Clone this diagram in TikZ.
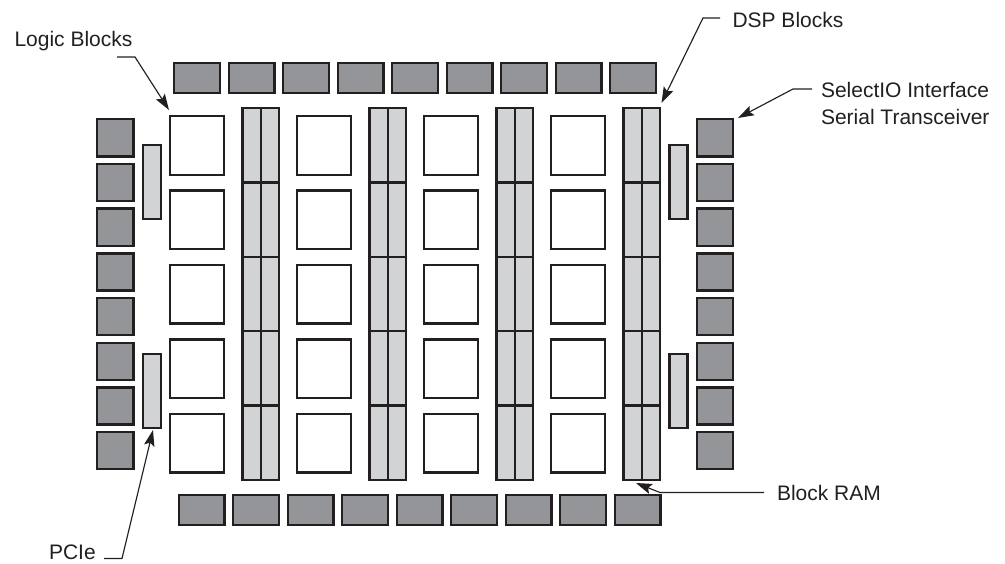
\documentclass[tikz,border=0pt]{standalone}
\usepackage{fontspec}
\setmainfont{Liberation Sans}
\usetikzlibrary{arrows.meta}
\definecolor{ink}{HTML}{231F20}
\definecolor{darkfill}{HTML}{939598}
\definecolor{lightfill}{HTML}{D1D3D4}
\tikzset{
  blk/.style={draw=ink,line width=2.4pt,rectangle,inner sep=0pt,outer sep=0pt},
  iotall/.style={blk,fill=darkfill,minimum width=36.1pt,minimum height=37.1pt},
  iowide/.style={blk,fill=darkfill,minimum width=45.6pt,minimum height=29.6pt},
  logicblk/.style={blk,fill=white,minimum width=53.6pt,minimum height=58.6pt},
  dspcell/.style={blk,fill=lightfill,minimum width=18.25pt,minimum height=74.4pt},
  pcieblk/.style={blk,fill=lightfill,minimum width=18.1pt,minimum height=74.1pt},
  lbl/.style={inner sep=0pt,outer sep=0pt,anchor=west,text=ink,font=\fontsize{21}{27}\selectfont,align=left},
  leader/.style={draw=ink,line width=1.15pt,-{Stealth[length=16pt,width=10.5pt,inset=3pt]}}
}
\begin{document}
\begin{tikzpicture}[x=1pt,y=-1pt]
\useasboundingbox (0,0) rectangle (1005,563);
% top and bottom I/O rows
\foreach \i in {0,...,8}{
  \node[iowide] (top\i) at ({197+54.5*\i},78) {};
  \node[iowide] (bot\i) at ({201.5+54.5*\i},510) {};
}
% left and right I/O columns
\foreach \i in {0,...,7}{
  \node[iotall] (left\i) at (115.3,{137.8+44.7*\i}) {};
  \node[iotall] (right\i) at (715,{137.8+44.7*\i}) {};
}
% PCIe blocks
\node[pcieblk] (pcieLT) at (151.8,182) {};
\node[pcieblk] (pcieLB) at (151.8,391) {};
\node[pcieblk] (pcieRT) at (678.5,182) {};
\node[pcieblk] (pcieRB) at (678.5,391) {};
% logic blocks and DSP / block RAM columns
\foreach \c in {0,...,3}{
  \foreach \r in {0,...,4}{
    \node[logicblk] (logic\c\r) at ({197+127*\c},{145.5+74.4*\r}) {};
    \node[dspcell] (dsp\c\r a) at ({251.6+127*\c},{145.2+74.4*\r}) {};
    \node[dspcell] (dsp\c\r b) at ({269.85+127*\c},{145.2+74.4*\r}) {};
  }
}
% labels
\node[lbl] (tLogic) at (14.5,41.5) {Logic Blocks};
\node[lbl] (tDSP) at (732.5,19.5) {DSP Blocks};
\node[lbl] (tIO) at (821,103) {SelectIO Interface\\Serial Transceiver};
\node[lbl] (tRAM) at (777,492.5) {Block RAM};
\node[lbl] (tPCIe) at (49,552) {PCIe};
% leader bends and free ends
\coordinate (sLogic) at (117,57);  \coordinate (bLogic) at (135,57);
\coordinate (eLogic) at (169,110);
\coordinate (sDSP) at (720,18);    \coordinate (bDSP) at (703,18);
\coordinate (eDSP) at (661.5,103);
\coordinate (sIO) at (812,89);     \coordinate (bIO) at (793,89);
\coordinate (eIO) at (738,118);
\coordinate (sRAM) at (764,492.5); \coordinate (bRAM) at (660,492.5);
\coordinate (eRAM) at (636,483);
\coordinate (sPCIe) at (104,558.5);\coordinate (bPCIe) at (122,558.5);
\coordinate (ePCIe) at (153,430);
\draw[leader] (sLogic) -- (bLogic) -- (eLogic);
\draw[leader] (sDSP) -- (bDSP) -- (eDSP);
\draw[leader] (sIO) -- (bIO) -- (eIO);
\draw[leader] (sRAM) -- (bRAM) -- (eRAM);
\draw[leader] (sPCIe) -- (bPCIe) -- (ePCIe);
\end{tikzpicture}
\end{document}
